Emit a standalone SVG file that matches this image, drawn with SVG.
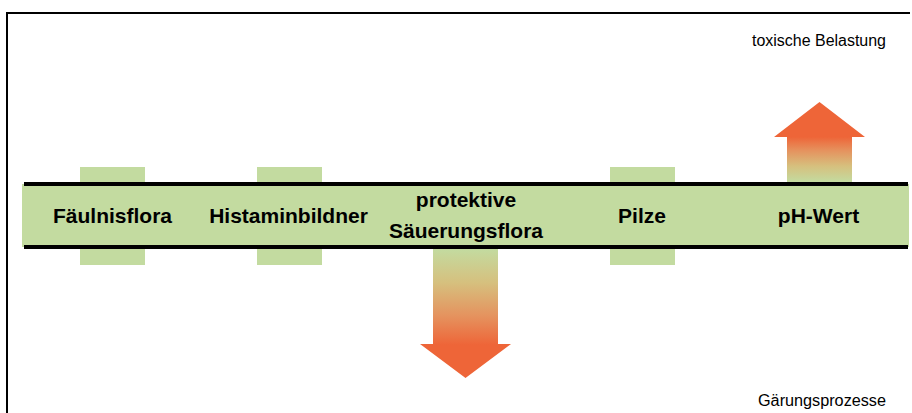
<svg xmlns="http://www.w3.org/2000/svg" width="912" height="413" viewBox="0 0 912 413">
<defs>
<style>
.lbl{font-family:"Liberation Sans",Arial,sans-serif;font-weight:bold;font-size:21px;fill:#000;text-anchor:middle}
.sm{font-family:"Liberation Sans",Arial,sans-serif;font-size:16px;fill:#000}
.tab{fill:#C3DBA0}
</style>
<linearGradient id="gDown" x1="0" y1="249" x2="0" y2="345" gradientUnits="userSpaceOnUse">
<stop offset="0" stop-color="#C3DBA0"/>
<stop offset="0.35" stop-color="#D6C07E"/>
<stop offset="0.7" stop-color="#E5925E"/>
<stop offset="1" stop-color="#EE6538"/>
</linearGradient>
<linearGradient id="gUp" x1="0" y1="182" x2="0" y2="137" gradientUnits="userSpaceOnUse">
<stop offset="0" stop-color="#C3DBA0"/>
<stop offset="0.35" stop-color="#D6C07E"/>
<stop offset="0.7" stop-color="#E5925E"/>
<stop offset="1" stop-color="#EE6538"/>
</linearGradient>
</defs>
<rect width="912" height="413" fill="#fff"/>
<path d="M7 413 V13 H910" fill="none" stroke="#000" stroke-width="2"/>
<text class="sm" x="752" y="46" textLength="134" lengthAdjust="spacingAndGlyphs">toxische Belastung</text>
<text class="sm" x="758" y="406" textLength="128" lengthAdjust="spacingAndGlyphs">Gärungsprozesse</text>
<g id="arrow-up">
<polygon points="787,182 852,182 852,137 865,137 819.5,102 774,137 787,137" fill="url(#gUp)"/>
</g>
<g id="arrow-down">
<polygon points="433,249 498,249 498,344 511,344 465.5,378 420,344 433,344" fill="url(#gDown)"/>
</g>
<g id="band">
<rect x="22" y="184" width="887" height="63" class="tab"/>
<rect x="24" y="182" width="884" height="4" fill="#000"/>
<rect x="24" y="245" width="884" height="4" fill="#000"/>
</g>
<g id="faeulnisflora">
<rect class="tab" x="80" y="167" width="65" height="15"/>
<rect class="tab" x="80" y="249" width="65" height="16"/>
<text class="lbl" x="112.5" y="223">Fäulnisflora</text>
</g>
<g id="histaminbildner">
<rect class="tab" x="257" y="167" width="65" height="15"/>
<rect class="tab" x="257" y="249" width="65" height="16"/>
<text class="lbl" x="288.5" y="223">Histaminbildner</text>
</g>
<g id="saeuerungsflora">
<text class="lbl" x="466" y="207">protektive</text>
<text class="lbl" x="466" y="238">Säuerungsflora</text>
</g>
<g id="pilze">
<rect class="tab" x="610" y="167" width="65" height="15"/>
<rect class="tab" x="610" y="249" width="65" height="16"/>
<text class="lbl" x="642" y="223">Pilze</text>
</g>
<g id="ph-wert">
<text class="lbl" x="818.5" y="223">pH-Wert</text>
</g>
</svg>
